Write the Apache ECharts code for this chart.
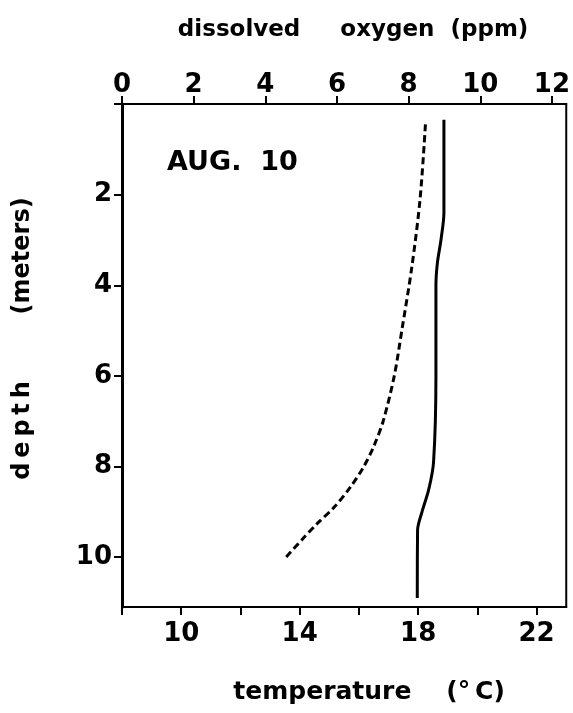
<!DOCTYPE html>
<html>
<head>
<meta charset="utf-8">
<script src="https://cdn.jsdelivr.net/npm/echarts@6/dist/echarts.min.js"></script>
<style>
  html, body { margin: 0; padding: 0; background: #fff; }
  #chart { width: 573px; height: 713px; }
</style>
</head>
<body>
<div id="chart"></div>
<script>
// temperature profile (solid line)
const tempDepth = [0.35, 2.4, 3.0, 3.5, 4.0, 6.0, 7.9, 8.5, 9.0, 9.4, 10.9]
const tempValues = [18.87, 18.87, 18.77, 18.65, 18.6, 18.6, 18.52, 18.36, 18.13, 17.98, 17.97]

// dissolved oxygen profile (dashed line)
const oxyDepth = [0.45, 2.1, 3.6, 5.0, 6.0, 7.0, 7.55, 8.0, 8.45, 8.9, 9.25, 9.6, 10.0]
const oxyValues = [8.47, 8.32, 8.09, 7.81, 7.6, 7.29, 7.03, 6.75, 6.38, 5.92, 5.46, 5.04, 4.58]

// tick labels shown on each axis
const tempLabels = [10, 14, 18, 22]
const oxyLabels = [0, 2, 4, 6, 8, 10, 12]
const depthLabels = [2, 4, 6, 8, 10]

const font = 'DejaVu Sans'
const thin = '\u2009'

function pairs(xs, ys) {
    let out = []
    for (let i = 0; i < xs.length; i++) {
        out.push([xs[i], ys[i]])
    }
    return out
}

var dom = document.getElementById('chart')
var chart = echarts.init(dom, null, { renderer: 'canvas' })

var tickFont = { fontFamily: font, fontSize: 26, fontWeight: 'bold', color: '#000' }

var option = {
    animation: false,
    backgroundColor: '#fff',
    title: {
        text: 'AUG.  10',
        left: 162,
        top: 144,
        textStyle: { fontFamily: font, fontSize: 27, fontWeight: 'bold', color: '#000' }
    },
    grid: {
        left: 122, right: 4, top: 104, bottom: 106,
        show: true, borderColor: '#000', borderWidth: 2, backgroundColor: 'transparent'
    },
    xAxis: [
        {
            type: 'value', position: 'bottom',
            min: 8, max: 23, interval: 2,
            splitLine: { show: false },
            axisLine: { onZero: false, lineStyle: { color: '#000', width: 2 } },
            axisTick: { show: true, length: 8, lineStyle: { color: '#000', width: 2 } },
            axisLabel: Object.assign({
                margin: 14, showMaxLabel: false,
                formatter: v => tempLabels.indexOf(v) >= 0 ? String(v) : ''
            }, tickFont),
            name: 'temperature    (°' + thin + 'C)',
            nameLocation: 'middle', nameGap: 73,
            nameTextStyle: { fontFamily: font, fontSize: 25, fontWeight: 'bold', color: '#000', padding: [0, 0, 0, 50] }
        },
        {
            type: 'value', position: 'top',
            min: 0, max: 12.4, interval: 2,
            splitLine: { show: false },
            axisLine: { onZero: false, lineStyle: { color: '#000', width: 2 } },
            axisTick: { show: true, length: 8, lineStyle: { color: '#000', width: 2 } },
            axisLabel: Object.assign({
                margin: 6, showMaxLabel: false,
                formatter: v => oxyLabels.indexOf(v) >= 0 ? String(v) : ''
            }, tickFont),
            name: 'dissolved     oxygen  (ppm)',
            nameLocation: 'middle', nameGap: 62,
            nameTextStyle: { fontFamily: font, fontSize: 23, fontWeight: 'bold', color: '#000', padding: [0, 0, 0, 18] }
        }
    ],
    yAxis: {
        type: 'value', inverse: true,
        min: 0, max: 11.1, interval: 2,
        splitLine: { show: false },
        axisLine: { onZero: false, lineStyle: { color: '#000', width: 3 } },
        axisTick: { show: true, length: 8, lineStyle: { color: '#000', width: 2 } },
        axisLabel: Object.assign({
            margin: 10, showMaxLabel: false,
            formatter: v => depthLabels.indexOf(v) >= 0 ? String(v) : ''
        }, tickFont),
        name: 'd' + thin + 'e' + thin + 'p' + thin + 't' + thin + 'h        (meters)',
        nameLocation: 'middle', nameGap: 87, nameRotate: 90,
        nameTextStyle: { fontFamily: font, fontSize: 24, fontWeight: 'bold', color: '#000', padding: [0, 0, 0, 34] }
    },
    series: [
        {
            name: 'temperature', type: 'line', xAxisIndex: 0,
            data: pairs(tempValues, tempDepth),
            smooth: 0.3, symbol: 'none',
            lineStyle: { color: '#000', width: 3, type: 'solid' }
        },
        {
            name: 'oxygen', type: 'line', xAxisIndex: 1,
            data: pairs(oxyValues, oxyDepth),
            smooth: 0.3, symbol: 'none',
            lineStyle: { color: '#000', width: 3, type: [7, 4] }
        }
    ]
}

chart.setOption(option)
</script>
</body>
</html>
